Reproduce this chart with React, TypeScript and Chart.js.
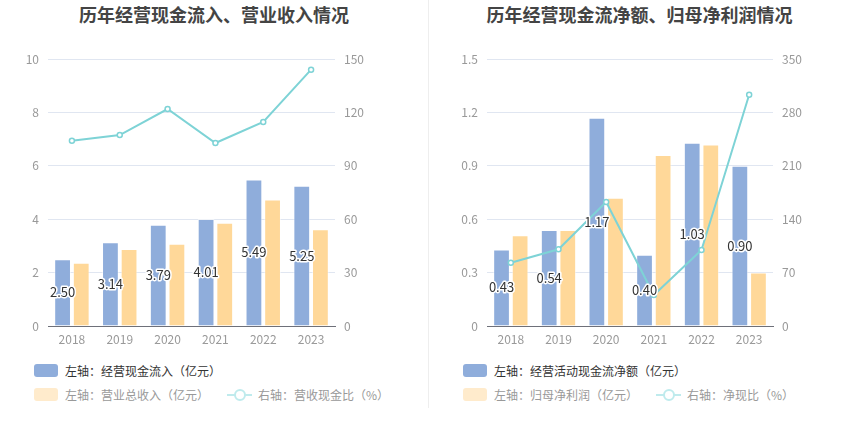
import { useEffect, useRef } from 'react';
import Chart from 'chart.js/auto';

const years = ['2018', '2019', '2020', '2021', '2022', '2023'];

// left panel
const cashInflow = [2.5, 3.14, 3.79, 4.01, 5.49, 5.25];
const revenue = [2.37, 2.88, 3.08, 3.87, 4.74, 3.62];
const cashToRevenue = [104.1, 107.3, 121.9, 102.8, 114.6, 144.0];

// right panel
const netCashFlow = [0.43, 0.54, 1.17, 0.4, 1.03, 0.9];
const netProfit = [0.51, 0.54, 0.72, 0.96, 1.02, 0.3];
const cashToProfit = [83.0, 100.5, 162.5, 40.6, 99.6, 303.2];

const BLUE = '#8FADDB';
const YELLOW = '#FFD899';
const TEAL = '#7ED3D6';
const FONT = '"Noto Sans CJK SC", "Noto Sans", sans-serif';

interface PanelProps {
  title: string;
  bars: number[];
  bars2: number[];
  line: number[];
  leftMax: number;
  leftStep: number;
  rightMax: number;
  rightStep: number;
  areaLeft: number;
  areaRight: number;
  width: number;
  decimals: number;
  legend: [string, string, string];
}

const barLabels = {
  id: 'barLabels',
  afterDatasetsDraw(chart: Chart, _args: unknown, opts: { decimals?: number }) {
    const meta = chart.getDatasetMeta(0);
    const ctx = chart.ctx;
    const data = chart.data.datasets[0].data as number[];
    ctx.save();
    ctx.font = `13px ${FONT}`;
    ctx.textAlign = 'center';
    ctx.textBaseline = 'middle';
    ctx.lineJoin = 'round';
    meta.data.forEach((el, i) => {
      const bar = el as unknown as { x: number; y: number; base: number };
      const y = (bar.y + bar.base) / 2;
      const txt = data[i].toFixed(opts.decimals ?? 2);
      ctx.strokeStyle = '#fff';
      ctx.lineWidth = 3;
      ctx.strokeText(txt, bar.x, y);
      ctx.fillStyle = '#333';
      ctx.fillText(txt, bar.x, y);
    });
    ctx.restore();
  },
};

const Panel: React.FC<PanelProps> = (p) => {
  const canvasRef = useRef<HTMLCanvasElement>(null);

  useEffect(() => {
    if (!canvasRef.current) return;
    const chart = new Chart(canvasRef.current, {
      type: 'bar',
      data: {
        labels: years,
        datasets: [
          {
            type: 'bar',
            data: p.bars,
            backgroundColor: BLUE,
            borderColor: 'rgba(255,255,255,0.5)',
            borderWidth: 1,
            yAxisID: 'y',
            order: 1,
            barPercentage: 0.9,
            categoryPercentage: 0.78,
          },
          {
            type: 'bar',
            data: p.bars2,
            backgroundColor: YELLOW,
            borderColor: 'rgba(255,255,255,0.5)',
            borderWidth: 1,
            yAxisID: 'y',
            order: 1,
            barPercentage: 0.9,
            categoryPercentage: 0.78,
          },
          {
            type: 'line',
            data: p.line,
            borderColor: TEAL,
            borderWidth: 2,
            pointRadius: 2.5,
            pointBorderWidth: 1.5,
            pointBackgroundColor: '#fff',
            pointBorderColor: TEAL,
            yAxisID: 'y1',
            order: 0,
          },
        ],
      },
      options: {
        animation: false,
        responsive: false,
        layout: { padding: { top: 59, left: 0, right: 0, bottom: 0 } },
        plugins: {
          legend: { display: false },
          tooltip: { enabled: false },
          barLabels: { decimals: p.decimals },
        } as any,
        scales: {
          x: {
            grid: { display: false, drawTicks: false },
            border: { display: true, color: '#6E7079' },
            ticks: { color: '#999', font: { size: 12, family: FONT }, padding: 6 },
            afterFit: (s: any) => {
              s.height = 29;
            },
          },
          y: {
            position: 'left',
            min: 0,
            max: p.leftMax,
            grid: { color: '#E0E6F1', drawTicks: false },
            border: { display: false },
            ticks: {
              stepSize: p.leftStep,
              color: '#999',
              padding: 9,
              font: { size: 12, family: FONT },
              callback: (v: any) => String(Number(v.toFixed(2))),
            },
            afterFit: (s: any) => {
              s.width = p.areaLeft;
            },
          },
          y1: {
            position: 'right',
            min: 0,
            max: p.rightMax,
            grid: { display: false, drawTicks: false },
            border: { display: false },
            ticks: {
              stepSize: p.rightStep,
              color: '#999',
              padding: 9,
              font: { size: 12, family: FONT },
            },
            afterFit: (s: any) => {
              s.width = p.width - p.areaRight;
            },
          },
        },
      },
      plugins: [barLabels],
    });
    return () => chart.destroy();
  }, [p]);

  const textDark = { color: '#333', fontSize: 12 };
  const textLight = { color: '#999', fontSize: 12 };
  const box = (c: string) => ({
    display: 'inline-block',
    width: 24,
    height: 13,
    borderRadius: 3,
    background: c,
    marginRight: 7,
    verticalAlign: 'middle',
  });

  return (
    <div style={{ position: 'relative', width: p.width, height: 437 }}>
      <div
        style={{
          position: 'absolute',
          top: 2,
          left: 0,
          width: p.width,
          textAlign: 'center',
          fontSize: 18,
          fontWeight: 'bold',
          color: '#444',
          lineHeight: '24px',
        }}
      >
        {p.title}
      </div>
      <canvas ref={canvasRef} width={p.width} height={355} style={{ position: 'absolute', top: 0, left: 0 }} />
      <div style={{ position: 'absolute', top: 360, left: 34, lineHeight: '16px', whiteSpace: 'nowrap' }}>
        <span style={box(BLUE)} />
        <span style={{ ...textDark, verticalAlign: 'middle' }}>{p.legend[0]}</span>
      </div>
      <div style={{ position: 'absolute', top: 384, left: 34, lineHeight: '16px', whiteSpace: 'nowrap' }}>
        <span style={box('#FFEBCC')} />
        <span style={{ ...textLight, verticalAlign: 'middle' }}>{p.legend[1]}</span>
        <span
          style={{
            display: 'inline-block',
            position: 'relative',
            width: 25,
            height: 13,
            marginLeft: 18,
            marginRight: 6,
            verticalAlign: 'middle',
          }}
        >
          <span style={{ position: 'absolute', left: 0, top: 6, width: 25, height: 2, background: '#BFEBED' }} />
          <span
            style={{
              position: 'absolute',
              left: 7,
              top: 1,
              width: 8,
              height: 8,
              borderRadius: '50%',
              border: '2px solid #BFEBED',
              background: '#fff',
            }}
          />
        </span>
        <span style={{ ...textLight, verticalAlign: 'middle' }}>{p.legend[2]}</span>
      </div>
    </div>
  );
};

const leftProps: PanelProps = {
  title: '历年经营现金流入、营业收入情况',
  bars: cashInflow,
  bars2: revenue,
  line: cashToRevenue,
  leftMax: 10,
  leftStep: 2,
  rightMax: 150,
  rightStep: 30,
  areaLeft: 48,
  areaRight: 335,
  width: 428,
  decimals: 2,
  legend: ['左轴：经营现金流入（亿元）', '左轴：营业总收入（亿元）', '右轴：营收现金比（%）'],
};

const rightProps: PanelProps = {
  title: '历年经营现金流净额、归母净利润情况',
  bars: netCashFlow,
  bars2: netProfit,
  line: cashToProfit,
  leftMax: 1.5,
  leftStep: 0.3,
  rightMax: 350,
  rightStep: 70,
  areaLeft: 58,
  areaRight: 344,
  width: 421,
  decimals: 2,
  legend: ['左轴：经营活动现金流净额（亿元）', '左轴：归母净利润（亿元）', '右轴：净现比（%）'],
};

export default function App() {
  return (
    <div
      style={{
        position: 'absolute',
        top: 0,
        left: 0,
        width: 850,
        height: 437,
        background: '#fff',
        fontFamily: FONT,
        display: 'flex',
      }}
    >
      <Panel {...leftProps} />
      <div style={{ width: 1, height: 408, background: '#EEEEEE' }} />
      <Panel {...rightProps} />
    </div>
  );
}
